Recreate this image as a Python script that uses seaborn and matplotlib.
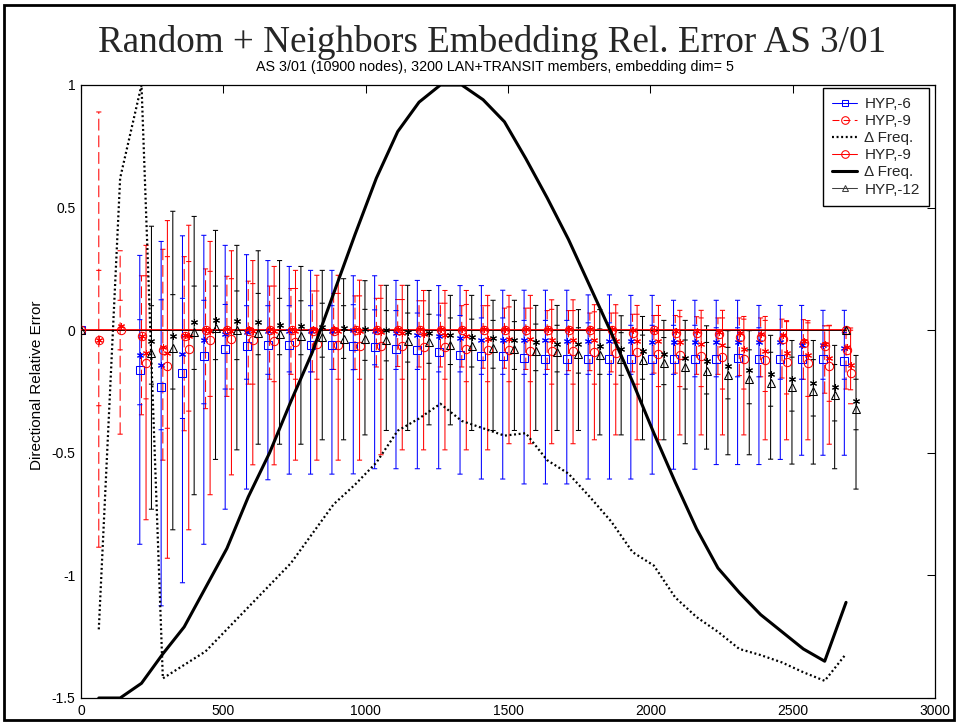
import numpy as np
import pandas as pd
import matplotlib
matplotlib.use("Agg")
import matplotlib.pyplot as plt
import seaborn as sns
from matplotlib.lines import Line2D
from matplotlib.patches import Rectangle

sns.set_theme(style="white")
plt.rcParams["font.family"] = ["Liberation Sans", "DejaVu Sans"]
plt.rcParams["lines.scale_dashes"] = False

# ---------------- data ----------------
# bin centres (ms)
bin_x = [62.5, 137.5, 212.5, 287.5, 362.5, 437.5, 512.5, 587.5, 662.5, 737.5,
         812.5, 887.5, 962.5, 1037.5, 1112.5, 1187.5, 1262.5, 1337.5, 1412.5,
         1487.5, 1562.5, 1637.5, 1712.5, 1787.5, 1862.5, 1937.5, 2012.5,
         2087.5, 2162.5, 2237.5, 2312.5, 2387.5, 2462.5, 2537.5, 2612.5, 2687.5]

# normalised frequency difference curves (one value per bin)
dfreq_solid = [-1.5, -1.5, -1.44, -1.32, -1.21, -1.05, -0.89, -0.68, -0.50, -0.29,
               -0.09, 0.15, 0.39, 0.62, 0.81, 0.93, 1.0, 1.0, 0.94, 0.85, 0.70,
               0.54, 0.37, 0.18, -0.01, -0.21, -0.42, -0.62, -0.81, -0.97, -1.07,
               -1.16, -1.23, -1.30, -1.35, -1.11]
dfreq_dotted = [-1.22, 0.62, 1.0, -1.42, -1.365, -1.31, -1.22, -1.13, -1.04, -0.95,
                -0.83, -0.71, -0.63, -0.54, -0.41, -0.36, -0.30, -0.37, -0.40,
                -0.43, -0.42, -0.53, -0.585, -0.68, -0.78, -0.905, -0.96, -1.09,
                -1.17, -1.23, -1.30, -1.325, -1.355, -1.395, -1.43, -1.32]

# HYP,-9 (dashed) -- bins 0..35
h9d_hi = [0.89, 0.324, 0.222, 0.33, 0.30, 0.25, 0.22, 0.2, 0.18, 0.17, 0.16, 0.15,
          0.14, 0.13, 0.125, 0.12, 0.11, 0.10, 0.10, 0.09, 0.09, 0.08, 0.08, 0.07,
          0.07, 0.065, 0.06, 0.06, 0.055, 0.05, 0.05, 0.05, 0.045, 0.043, 0.018, 0.01]
h9d_lo = [-0.885, -0.424, -0.345, -0.53, -0.41, -0.32, -0.27, -0.22, -0.2, -0.18,
          -0.17, -0.16, -0.16, -0.15, -0.148, -0.15, -0.15, -0.15, -0.155, -0.155,
          -0.16, -0.16, -0.165, -0.165, -0.17, -0.17, -0.175, -0.175, -0.18, -0.18,
          -0.185, -0.19, -0.195, -0.2, -0.257, -0.24]
h9d_mean = [-0.039, 0.0, -0.025, -0.08, -0.025, 0.0, 0.0, -0.002, 0.0, 0.0, -0.002,
            -0.002, 0.0, 0.0, 0.0, 0.0, 0.0, 0.0, 0.0, 0.0, 0.0, 0.0, 0.0, 0.0, 0.0,
            -0.01, 0.0, -0.013, -0.013, -0.017, -0.028, -0.028, -0.035, -0.053,
            -0.063, -0.082]
h9d_med = [-0.039, 0.018, -0.025, -0.07, -0.02, 0.005, 0.005, 0.004, 0.004, 0.004,
           0.004, 0.004, 0.003, 0.003, 0.003, 0.003, 0.003, 0.003, 0.003, 0.003,
           0.003, 0.003, 0.003, 0.003, 0.003, 0.0, 0.0, -0.005, -0.005, -0.008,
           -0.01, -0.015, -0.02, -0.045, -0.055, -0.07]
h9d_qhi = [0.244, 0.122]
h9d_qlo = [-0.308, -0.08]

# HYP,-6 -- bins 2..35
h6_hi = [0.305, 0.362, 0.385, 0.387, 0.346, 0.308, 0.284, 0.26, 0.244, 0.244, 0.222,
         0.222, 0.203, 0.203, 0.182, 0.182, 0.182, 0.163, 0.163, 0.163, 0.163, 0.144,
         0.144, 0.142, 0.142, 0.122, 0.122, 0.122, 0.122, 0.101, 0.101, 0.101,
         0.081, 0.081]
h6_lo = [-0.873, -1.124, -1.03, -0.873, -0.73, -0.648, -0.61, -0.587, -0.587, -0.587,
         -0.586, -0.565, -0.565, -0.565, -0.565, -0.587, -0.607, -0.607, -0.627,
         -0.627, -0.627, -0.607, -0.607, -0.607, -0.587, -0.567, -0.567, -0.548,
         -0.548, -0.548, -0.527, -0.51, -0.51, -0.51]
h6_mean = [-0.161, -0.232, -0.175, -0.107, -0.077, -0.066, -0.059, -0.06, -0.06, -0.06,
           -0.066, -0.068, -0.078, -0.08, -0.09, -0.1, -0.104, -0.105, -0.114, -0.117,
           -0.117, -0.117, -0.117, -0.118, -0.118, -0.118, -0.118, -0.118, -0.112,
           -0.118, -0.118, -0.118, -0.118, -0.127]
h6_med = [-0.1, -0.143, -0.097, -0.039, -0.014, -0.009, -0.005, -0.004, -0.003, -0.002,
          0.0, -0.005, -0.011, -0.018, -0.025, -0.032, -0.039, -0.039, -0.04, -0.04,
          -0.045, -0.045, -0.045, -0.045, -0.047, -0.047, -0.047, -0.05, -0.047,
          -0.05, -0.05, -0.059, -0.061, -0.073]
h6_qhi = [0.043, 0.124, 0.13, 0.122, 0.105, 0.1, 0.1, 0.1, 0.1, 0.1, 0.104, 0.083, 0.08,
          0.07, 0.062, 0.06, 0.05, 0.05, 0.04, 0.04, 0.04, 0.03, 0.03, 0.02, 0.02, 0.02,
          0.02, 0.01, 0.01, 0.01, 0.0, 0.0, 0.0, -0.01]
h6_qlo = [-0.304, -0.406, -0.36, -0.3, -0.24, -0.2, -0.18, -0.17, -0.17, -0.16, -0.161,
          -0.141, -0.16, -0.16, -0.17, -0.17, -0.18, -0.18, -0.18, -0.18, -0.18, -0.18,
          -0.18, -0.18, -0.18, -0.18, -0.19, -0.19, -0.19, -0.19, -0.2, -0.2, -0.2, -0.2]

# HYP,-9 (solid) -- bins 2..35
h9_hi = [0.346, 0.447, 0.428, 0.362, 0.324, 0.284, 0.26, 0.244, 0.224, 0.224, 0.204,
         0.183, 0.183, 0.162, 0.162, 0.162, 0.142, 0.142, 0.142, 0.124, 0.124, 0.104,
         0.104, 0.101, 0.101, 0.081, 0.081, 0.081, 0.056, 0.056, 0.039, 0.039,
         0.018, 0.009]
h9_lo = [-0.773, -0.93, -0.814, -0.671, -0.59, -0.549, -0.549, -0.53, -0.53, -0.53,
         -0.53, -0.508, -0.488, -0.488, -0.488, -0.488, -0.488, -0.463, -0.463, -0.463,
         -0.463, -0.447, -0.427, -0.447, -0.447, -0.427, -0.427, -0.427, -0.427,
         -0.447, -0.447, -0.447, -0.465, -0.243]
h9_mean = [-0.134, -0.145, -0.077, -0.042, -0.036, -0.042, -0.044, -0.05, -0.055, -0.06,
           -0.066, -0.066, -0.066, -0.068, -0.07, -0.078, -0.082, -0.082, -0.086,
           -0.086, -0.086, -0.09, -0.093, -0.09, -0.096, -0.1, -0.104, -0.108, -0.118,
           -0.123, -0.131, -0.135, -0.148, -0.175]
h9_med = [-0.093, -0.093, -0.025, -0.005, -0.004, -0.004, -0.004, -0.004, -0.004,
          -0.004, -0.005, -0.008, -0.01, -0.014, -0.018, -0.025, -0.035, -0.035,
          -0.035, -0.038, -0.04, -0.042, -0.045, -0.045, -0.045, -0.05, -0.055, -0.06,
          -0.075, -0.086, -0.095, -0.1, -0.113, -0.141]
h9_qhi = [0.222, 0.3, 0.28, 0.24, 0.21, 0.19, 0.18, 0.17, 0.16, 0.15, 0.14, 0.13, 0.125,
          0.12, 0.11, 0.105, 0.1, 0.095, 0.09, 0.085, 0.08, 0.075, 0.07, 0.065, 0.06,
          0.055, 0.05, 0.05, 0.045, 0.04, 0.035, 0.03, 0.02, 0.0]
h9_qlo = [-0.28, -0.40, -0.33, -0.27, -0.24, -0.22, -0.21, -0.2, -0.2, -0.2, -0.2, -0.2,
          -0.2, -0.2, -0.2, -0.21, -0.21, -0.21, -0.21, -0.22, -0.22, -0.22, -0.22,
          -0.22, -0.23, -0.23, -0.23, -0.24, -0.24, -0.25, -0.26, -0.27, -0.29, -0.3]

# HYP,-12 -- bins 2..35
h12_hi = [0.424, 0.485, 0.464, 0.407, 0.346, 0.324, 0.284, 0.26, 0.244, 0.21, 0.202,
          0.183, 0.183, 0.162, 0.142, 0.142, 0.122, 0.122, 0.101, 0.101, 0.084, 0.084,
          0.059, 0.056, 0.04, 0.04, 0.018, -0.002, -0.002, -0.021, -0.042, -0.042,
          -0.062, -0.103]
h12_lo = [-0.73, -0.814, -0.671, -0.527, -0.488, -0.465, -0.465, -0.465, -0.447, -0.447,
          -0.427, -0.409, -0.409, -0.386, -0.386, -0.409, -0.409, -0.409, -0.409,
          -0.409, -0.409, -0.427, -0.427, -0.447, -0.447, -0.463, -0.485, -0.508,
          -0.508, -0.526, -0.546, -0.546, -0.565, -0.648]
h12_mean = [-0.093, -0.073, -0.007, 0.009, 0.0, -0.011, -0.016, -0.022, -0.026, -0.034,
            -0.036, -0.039, -0.043, -0.048, -0.06, -0.064, -0.073, -0.077, -0.086, -0.09,
            -0.096, -0.1, -0.116, -0.12, -0.134, -0.152, -0.168, -0.182, -0.2, -0.216,
            -0.23, -0.247, -0.266, -0.322]
h12_med = [-0.045, -0.025, 0.033, 0.043, 0.036, 0.033, 0.022, 0.016, 0.013, 0.009,
           0.003, 0.0, -0.007, -0.013, -0.02, -0.028, -0.03, -0.039, -0.05, -0.055,
           -0.055, -0.066, -0.075, -0.084, -0.096, -0.113, -0.127, -0.145, -0.163,
           -0.179, -0.197, -0.216, -0.233, -0.29]
h12_qhi = [0.10, 0.145, 0.18, 0.18, 0.16, 0.15, 0.13, 0.12, 0.11, 0.10, 0.085, 0.08,
           0.07, 0.065, 0.05, 0.045, 0.04, 0.035, 0.025, 0.02, 0.01, 0.005, -0.01, -0.02,
           -0.03, -0.04, -0.05, -0.07, -0.08, -0.09, -0.11, -0.12, -0.14, -0.2]
h12_qlo = [-0.22, -0.24, -0.16, -0.12, -0.12, -0.1, -0.1, -0.1, -0.11, -0.115, -0.123,
           -0.125, -0.13, -0.135, -0.14, -0.15, -0.155, -0.16, -0.165, -0.17, -0.175,
           -0.18, -0.184, -0.2, -0.222, -0.24, -0.26, -0.28, -0.3, -0.31, -0.33, -0.35,
           -0.37, -0.406]

x_start, x_end = 0.0, 2687.5
legend_labels = ["HYP,-6", "HYP,-9", "\u0394 Freq.", "HYP,-9", "\u0394 Freq.", "HYP,-12"]

# ---------------- figure ----------------
W, H = 959, 725
fig = plt.figure(figsize=(W / 100, H / 100), dpi=100)
fig.patch.set_facecolor("white")
ax = fig.add_axes([81 / W, 1 - 698 / H, 854 / W, 613 / H])
ax.set_facecolor("white")

BLUE, RED, BLACK = "#0000ff", "#ff0000", "#000000"
CAP = 9.0
BAR_LW = 0.75


def error_bars(xs, lo, hi, qlo, qhi, color, ls="-"):
    xs = np.asarray(xs, float)
    ax.vlines(xs, lo, hi, colors=color, linestyles=ls, lw=BAR_LW, snap=False, zorder=2)
    for ys in (lo, hi):
        ax.hlines(ys, xs - CAP, xs + CAP, colors=color, lw=BAR_LW, snap=False, zorder=2)
    n = len(qlo)
    for ys in (qlo, qhi):
        ax.hlines(ys, xs[:n] - CAP, xs[:n] + CAP, colors=color, lw=BAR_LW,
                  snap=False, zorder=2)


def markers(xs, ys, marker, color, ms, mew=0.75):
    ax.plot(xs, ys, ls="none", marker=marker, ms=ms, mfc="none", mec=color,
            mew=mew, zorder=4)


ASTER = (6, 2, 0)
bx = np.array(bin_x)
later = bx[2:]

# HYP,-9 dashed series (starts at the first bin)
error_bars(bx, h9d_lo, h9d_hi, h9d_qlo, h9d_qhi, RED, ls=(0, (8.5, 3.5)))
# HYP,-6
error_bars(later - 6, h6_lo, h6_hi, h6_qlo, h6_qhi, BLUE)
# HYP,-9 solid
error_bars(later + 16, h9_lo, h9_hi, h9_qlo, h9_qhi, RED)
# HYP,-12
error_bars(later + 35, h12_lo, h12_hi, h12_qlo, h12_qhi, BLACK)

# zero reference line
ax.plot([x_start, x_end], [0, 0], color=RED, lw=1.3, zorder=3)
ax.plot([x_start, x_end], [0, 0], color="#300000", lw=0.7, zorder=3)

markers(later - 6, h6_med, ASTER, BLUE, 5)
markers(later - 6, h6_mean, "s", BLUE, 5.5)
markers(bx + 2, h9d_med, ASTER, RED, 5)
markers(bx + 2, h9d_mean, "o", RED, 6)
markers(later + 16, h9_med, ASTER, RED, 5)
markers(later + 16, h9_mean, "o", RED, 6)
markers(later + 35, h12_med, ASTER, BLACK, 5)
markers(later + 35, h12_mean, "^", BLACK, 5.5)

# end points of the reference line
markers([x_start], [0], "s", BLUE, 5.5)
markers([x_start, x_end], [0, 0], "o", RED, 6)
markers([x_start, x_end], [0, 0], "^", BLACK, 5.5)

# frequency difference curves
freq = pd.DataFrame({"x": bin_x, "solid": dfreq_solid, "dotted": dfreq_dotted})
sns.lineplot(data=freq, x="x", y="dotted", ax=ax, color=BLACK, lw=1.6,
             linestyle=(0, (1.4, 1.9)), estimator=None, sort=False, zorder=5)
sns.lineplot(data=freq, x="x", y="solid", ax=ax, color=BLACK, lw=2.2,
             estimator=None, sort=False, zorder=5)

# ---------------- axes styling ----------------
ax.set_xlim(0, 3000)
ax.set_ylim(-1.5, 1.0)
ax.set_xticks([0, 500, 1000, 1500, 2000, 2500, 3000])
ax.set_xticklabels(["0", "500", "1000", "1500", "2000", "2500", "3000"])
ax.set_yticks([-1.5, -1.0, -0.5, 0.0, 0.5, 1.0])
ax.set_yticklabels(["-1.5", "-1", "-0.5", "0", "0.5", "1"])
ax.tick_params(direction="in", length=6, width=0.75, top=True, right=True,
               labelsize=10, colors="black", pad=4)
for s in ax.spines.values():
    s.set_visible(True)
    s.set_color("black")
    s.set_linewidth(0.9)
ax.set_xlabel("")
ax.set_ylabel("Directional Relative Error", fontsize=11, color="black")
ax.yaxis.set_label_coords(-0.0515, 0.51)
ax.yaxis.label.set_verticalalignment("center")
ax.grid(False)

handles = [
    Line2D([], [], color=BLUE, lw=0.75, marker="s", ms=5, mfc="none", mew=0.75),
    Line2D([], [], color=RED, lw=0.75, ls=(0, (5, 3)), marker="o", ms=5.5, mfc="none", mew=0.75),
    Line2D([], [], color=BLACK, lw=1.6, ls=(0, (1.4, 1.9))),
    Line2D([], [], color=RED, lw=0.75, marker="o", ms=5.5, mfc="none", mew=0.75),
    Line2D([], [], color=BLACK, lw=2.2),
    Line2D([], [], color="#404040", lw=0.75, marker="^", ms=5, mfc="none", mew=0.75),
]
leg = ax.legend(handles, legend_labels, loc="upper right", bbox_to_anchor=(0.993, 0.995),
                borderaxespad=0, fontsize=11, frameon=True, fancybox=False,
                handlelength=1.6, handletextpad=0.5, labelspacing=0.2,
                borderpad=0.6)
leg.get_frame().set_edgecolor("black")
leg.get_frame().set_linewidth(1.0)
leg.get_frame().set_facecolor("white")
leg.get_frame().set_alpha(1)

# ---------------- titles and frame ----------------
fig.text(0.513, 1 - 42 / H, "Random + Neighbors Embedding Rel. Error AS 3/01",
         ha="center", va="center", fontsize=26.7, family=["Liberation Serif", "DejaVu Serif"])
fig.text(0.516, 1 - 67 / H,
         "AS 3/01 (10900 nodes), 3200 LAN+TRANSIT members, embedding dim= 5",
         ha="center", va="center", fontsize=10.3, color="black")
fig.patches.append(Rectangle((4 / W, 5 / H), 950 / W, 715 / H, transform=fig.transFigure,
                             fill=False, ec="black", lw=2.0))

fig.savefig("out.png", dpi=100)
